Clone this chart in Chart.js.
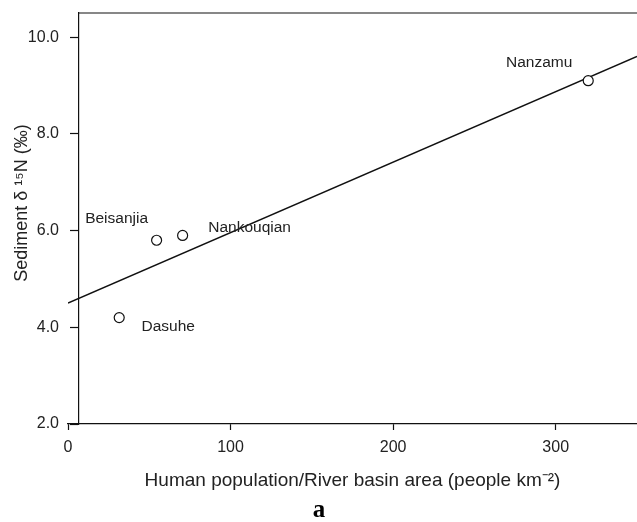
<!DOCTYPE html>
<html>
<head>
<meta charset="utf-8">
<script src="https://cdn.jsdelivr.net/npm/chart.js@4.4.1/dist/chart.umd.min.js"></script>
<style>
  html, body { margin: 0; padding: 0; background: #fff; }
  canvas { display: block; }
</style>
</head>
<body>
<canvas id="c" width="637" height="522"></canvas>
<script>
// sites and values
const sites = ['Dasuhe', 'Beisanjia', 'Nankouqian', 'Nanzamu'];
const density = [31.5, 54.5, 70.5, 320];
const d15N = [4.2, 5.8, 5.9, 9.1];
// fitted line end points
const fitX = [0, 350];
const fitY = [4.5, 9.6];
const xTicks = [0, 100, 200, 300];
const yTicks = [2, 4, 6, 8, 10];

const ink = '#222';
const font = 'Arial, "Liberation Sans", sans-serif';

// label offsets from each point, in pixels
const labelOffsets = [[49, 9], [-40, -22], [67, -8], [-49, -18]];

const extras = {
  id: 'extras',
  afterDraw(chart) {
    const ctx = chart.ctx;
    const xs = chart.scales.x, ys = chart.scales.y;
    const area = chart.chartArea;
    ctx.save();
    // top frame line
    ctx.strokeStyle = '#111';
    ctx.lineWidth = 1.2;
    ctx.beginPath();
    ctx.moveTo(xs.getPixelForValue(6.5), area.top);
    ctx.lineTo(area.right, area.top);
    ctx.stroke();

    // point labels
    ctx.fillStyle = ink;
    ctx.font = '15.5px ' + font;
    ctx.textAlign = 'center';
    ctx.textBaseline = 'middle';
    sites.forEach((s, i) => {
      const px = xs.getPixelForValue(density[i]);
      const py = ys.getPixelForValue(d15N[i]);
      ctx.fillText(s, px + labelOffsets[i][0], py + labelOffsets[i][1]);
    });

    // y axis title
    ctx.save();
    ctx.translate(22, 203);
    ctx.rotate(-Math.PI / 2);
    ctx.font = '18px ' + font;
    ctx.fillText('Sediment δ ¹⁵N (‰)', 0, 0);
    ctx.restore();

    // panel letter
    ctx.font = 'bold 25px "Liberation Serif", "Times New Roman", serif';
    ctx.fillStyle = '#000';
    ctx.textBaseline = 'alphabetic';
    ctx.fillText('a', 319, 517);
    ctx.restore();
  }
};

new Chart(document.getElementById('c'), {
  type: 'scatter',
  data: {
    datasets: [
      {
        label: 'sites',
        data: density.map((x, i) => ({ x: x, y: d15N[i] })),
        pointRadius: 5,
        pointHoverRadius: 5,
        pointBackgroundColor: '#fff',
        pointBorderColor: '#111',
        pointBorderWidth: 1.2,
        showLine: false
      },
      {
        label: 'fit',
        type: 'line',
        data: fitX.map((x, i) => ({ x: x, y: fitY[i] })),
        borderColor: '#111',
        borderWidth: 1.5,
        pointRadius: 0,
        fill: false
      }
    ]
  },
  options: {
    responsive: false,
    animation: false,
    layout: { autoPadding: false, padding: { left: 0, top: 13, right: 0, bottom: 0 } },
    plugins: {
      legend: { display: false },
      tooltip: { enabled: false }
    },
    scales: {
      x: {
        type: 'linear',
        min: 0,
        max: 350,
        afterBuildTicks: s => { s.ticks = xTicks.map(v => ({ value: v })); },
        afterFit: s => { s.height = 98; s.paddingLeft = 0; s.paddingRight = 0; },
        grid: { drawOnChartArea: false, tickLength: 6, color: '#111', tickWidth: 1.2 },
        border: { color: '#111', width: 1.2 },
        ticks: { color: ink, font: { family: font, size: 16 }, padding: 8, maxRotation: 0 },
        title: {
          display: true,
          text: 'Human population/River basin area (people km⁻²)',
          color: ink,
          font: { family: font, size: 19 },
          padding: { top: 0, bottom: 30 }
        }
      },
      // tick labels, left of the plot
      y: {
        type: 'linear',
        position: 'left',
        min: 2,
        max: 10.5,
        afterBuildTicks: s => { s.ticks = yTicks.map(v => ({ value: v })); },
        afterFit: s => { s.width = 68; s.paddingTop = 0; s.paddingBottom = 0; },
        grid: { display: false },
        border: { display: false },
        ticks: { color: ink, font: { family: font, size: 16 }, padding: 1, callback: v => v.toFixed(1) }
      },
      // the offset axis line with its tick marks
      y2: {
        type: 'linear',
        position: { x: 6.5 },
        min: 2,
        max: 10.5,
        afterBuildTicks: s => { s.ticks = yTicks.map(v => ({ value: v })); },
        afterFit: s => { s.paddingTop = 0; s.paddingBottom = 0; },
        grid: { drawOnChartArea: false, tickLength: 8, color: '#111', tickWidth: 1.2 },
        border: { color: '#111', width: 1.2 },
        ticks: { display: false }
      }
    }
  },
  plugins: [extras]
});
</script>
</body>
</html>
